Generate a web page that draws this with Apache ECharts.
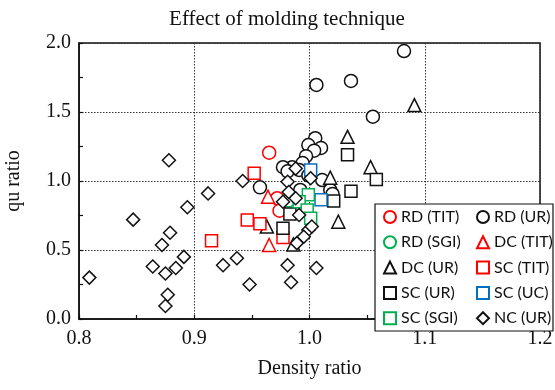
<!DOCTYPE html>
<html>
<head>
<meta charset="utf-8">
<script src="https://cdn.jsdelivr.net/npm/echarts@6/dist/echarts.min.js"></script>
<style>
  html, body { margin: 0; padding: 0; background: #fff; }
  #chart { width: 555px; height: 390px; }
</style>
</head>
<body>
<div id="chart"></div>
<script>
// Density ratio vs qu ratio, grouped by molding technique and specimen source
const RD_TIT = [[0.965, 1.205], [0.972, 0.875], [0.974, 0.785]];
const RD_UR = [[1.082, 1.942], [1.036, 1.725], [1.006, 1.696], [1.055, 1.466], [1.005, 1.31],
  [1.010, 1.24], [0.999, 1.26], [1.004, 1.22], [0.997, 1.18], [0.994, 1.13], [0.985, 1.10],
  [0.977, 1.10], [0.981, 1.07], [0.991, 1.08], [0.999, 1.04], [1.011, 1.007], [1.018, 0.935],
  [1.020, 0.906], [0.992, 0.935], [0.957, 0.954]];
const RD_SGI = [[0.982, 0.86]];
const DC_TIT = [[0.964, 0.886], [0.965, 0.536]];
const DC_UR = [[1.091, 1.55], [1.033, 1.32], [1.053, 1.10], [1.018, 1.024], [1.025, 0.705],
  [0.963, 0.67], [0.986, 0.54]];
const SC_TIT = [[0.915, 0.567], [0.946, 0.717], [0.957, 0.69], [0.952, 1.056], [0.977, 0.59]];
const SC_UR = [[1.033, 1.19], [1.058, 1.01], [1.036, 0.925], [1.021, 0.855], [0.983, 0.76],
  [0.977, 0.657]];
const SC_UC = [[1.001, 1.08], [1.010, 0.865]];
const SC_SGI = [[0.999, 0.90], [0.991, 0.85], [0.998, 0.79], [1.001, 0.73]];
const NC_UR = [[0.809, 0.30], [0.847, 0.72], [0.894, 0.81], [0.912, 0.91], [0.872, 0.536],
  [0.879, 0.625], [0.864, 0.38], [0.875, 0.33], [0.884, 0.37], [0.891, 0.45], [0.877, 0.176],
  [0.875, 0.094], [0.925, 0.39], [0.937, 0.44], [0.948, 0.25], [0.942, 1.00], [0.878, 1.15],
  [0.981, 0.39], [0.984, 0.266], [1.006, 0.37], [0.988, 1.09], [0.981, 0.995], [0.982, 0.92],
  [0.988, 0.875], [1.001, 1.02], [0.991, 0.754], [0.999, 0.645], [0.995, 0.596], [1.002, 0.67],
  [0.989, 0.55], [0.977, 0.85]];

const RED = '#ff0000', BLACK = '#111111', GREEN = '#00b050', BLUE = '#0070c0';

const seriesDefs = [
  { name: 'RD (TIT)', data: RD_TIT, symbol: 'circle', color: RED, size: 13 },
  { name: 'RD (UR)', data: RD_UR, symbol: 'circle', color: BLACK, size: 13 },
  { name: 'RD (SGI)', data: RD_SGI, symbol: 'circle', color: GREEN, size: 13 },
  { name: 'DC (TIT)', data: DC_TIT, symbol: 'triangle', color: RED, size: 13 },
  { name: 'DC (UR)', data: DC_UR, symbol: 'triangle', color: BLACK, size: 13 },
  { name: 'SC (TIT)', data: SC_TIT, symbol: 'rect', color: RED, size: 12 },
  { name: 'SC (UR)', data: SC_UR, symbol: 'rect', color: BLACK, size: 12 },
  { name: 'SC (UC)', data: SC_UC, symbol: 'rect', color: BLUE, size: 12 },
  { name: 'SC (SGI)', data: SC_SGI, symbol: 'rect', color: GREEN, size: 12 },
  { name: 'NC (UR)', data: NC_UR, symbol: 'diamond', color: BLACK, size: 13 }
];

const serif = 'Liberation Serif';
const chart = echarts.init(document.getElementById('chart'), null, { renderer: 'canvas' });

const legendText = { fontFamily: 'Lato', fontSize: 16, color: '#111', lineHeight: 16 };
const legendBase = {
  orient: 'vertical', itemWidth: 12, itemHeight: 12, itemGap: 9.3,
  textStyle: legendText, z: 30, padding: 0, selectedMode: false,
  backgroundColor: 'transparent'
};

chart.setOption({
  animation: false,
  title: {
    text: 'Effect of molding technique',
    left: 282, textAlign: 'center', top: 4,
    textStyle: { fontFamily: serif, fontSize: 21, fontWeight: 'normal', color: '#111' }
  },
  grid: {
    left: 79, right: 15, top: 43, bottom: 71, outerBoundsMode: 'none', containLabel: false,
    show: true, borderColor: '#111', borderWidth: 1.5, backgroundColor: 'transparent'
  },
  xAxis: {
    type: 'value', min: 0.8, max: 1.2, interval: 0.1,
    name: 'Density ratio', nameLocation: 'middle', nameGap: 40,
    nameTextStyle: { fontFamily: serif, fontSize: 20, color: '#111' },
    axisLine: { show: true, lineStyle: { color: '#111', width: 1.5 } },
    axisTick: { show: true, inside: true, length: 4, lineStyle: { color: '#111', width: 1.2 } },
    minorTick: { show: true, splitNumber: 2, length: 4, lineStyle: { color: '#111', width: 1.2 } },
    axisLabel: { fontFamily: serif, fontSize: 20, color: '#111', margin: 10, formatter: v => v.toFixed(1) },
    splitLine: { show: true, lineStyle: { type: [1.5, 1.5], color: '#333', width: 1 } }
  },
  yAxis: {
    type: 'value', min: 0, max: 2, interval: 0.5,
    name: 'qu ratio', nameLocation: 'middle', nameGap: 55,
    nameTextStyle: { fontFamily: serif, fontSize: 20, color: '#111' },
    axisLine: { show: true, lineStyle: { color: '#111', width: 1.5 } },
    axisTick: { show: true, inside: true, length: 4, lineStyle: { color: '#111', width: 1.2 } },
    minorTick: { show: true, splitNumber: 2, length: 4, lineStyle: { color: '#111', width: 1.2 } },
    axisLabel: { fontFamily: serif, fontSize: 20, color: '#111', margin: 8, formatter: v => v.toFixed(1) },
    splitLine: { show: true, lineStyle: { type: [1.5, 1.5], color: '#333', width: 1 } }
  },
  legend: [
    Object.assign({}, legendBase, { left: 383, top: 209, data: ['RD (TIT)', 'RD (SGI)', 'DC (UR)', 'SC (UR)', 'SC (SGI)'] }),
    Object.assign({}, legendBase, { left: 476, top: 209, data: ['RD (UR)', 'DC (TIT)', 'SC (TIT)', 'SC (UC)', 'NC (UR)'] })
  ],
  graphic: [{
    type: 'rect', z: 25,
    shape: { x: 375, y: 204, width: 178, height: 127 },
    style: { fill: '#fff', stroke: '#111', lineWidth: 1.2 }
  }],
  series: seriesDefs.map(d => ({
    name: d.name, type: 'scatter', data: d.data,
    symbol: d.symbol, symbolSize: d.size,
    itemStyle: { color: '#fff', borderColor: d.color, borderWidth: 1.5, opacity: 1 },
    emphasis: { disabled: true }
  }))
});
</script>
</body>
</html>
